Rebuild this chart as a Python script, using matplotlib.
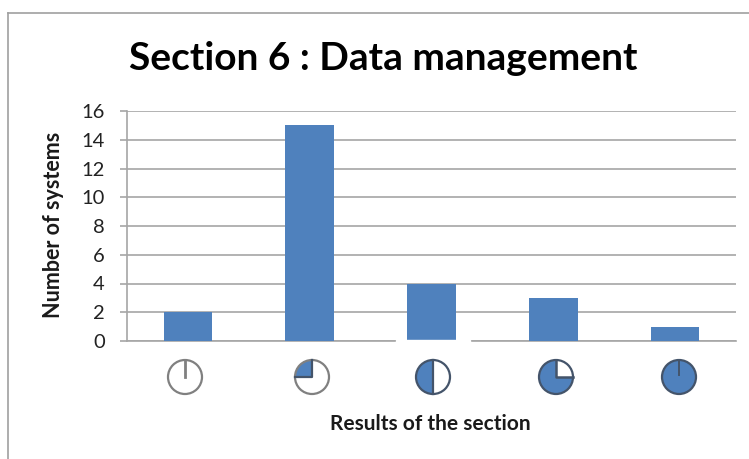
import matplotlib
matplotlib.use('Agg')
import matplotlib.pyplot as plt
from matplotlib.lines import Line2D
from matplotlib.patches import Circle, Rectangle, Wedge

W, H = 749, 459
BLUE = '#4f81bd'
GREY = '#a6a6a6'

# one bar per result level, the level is shown by a pie icon
values = [2, 15, 4, 3, 1]
filled = [0, 0.25, 0.5, 0.75, 1]
yticks = [0, 2, 4, 6, 8, 10, 12, 14, 16]

title = 'Section 6 : Data management'
xlabel = 'Results of the section'
ylabel = 'Number of systems'

plt.rcParams['font.family'] = ['Lato', 'DejaVu Sans']

fig = plt.figure(figsize=(W / 100, H / 100), dpi=100)

# chart frame, right and bottom are cut off in the picture
fig.add_artist(Line2D([8 / W, 8 / W], [0, 1 - 13 / H], color='#a0a0a0', lw=1.2))
fig.add_artist(Line2D([8 / W, 1], [1 - 13 / H, 1 - 13 / H], color='#a0a0a0', lw=1.2))

ax = fig.add_axes([127 / W, 1 - 341 / H, 609 / W, 230 / H])
x = list(range(len(values)))
ax.bar(x, values, width=0.4, color=BLUE, zorder=3)
ax.set_xlim(-0.5, 4.5)
ax.set_ylim(0, 16)
ax.set_yticks(yticks)
ax.set_xticks([])
ax.tick_params(axis='y', length=5, width=1.2, color=GREY, labelsize=14.5, pad=11, labelcolor='#222222')
ax.grid(axis='y', color=GREY, lw=1.2, zorder=1)
ax.set_axisbelow(True)
for s in ['top', 'right']:
    ax.spines[s].set_visible(False)
for s in ['left', 'bottom']:
    ax.spines[s].set_color(GREY)
    ax.spines[s].set_linewidth(1.2)

# white gap in the baseline under the middle bar
fig.add_artist(Rectangle((396 / W, 1 - 346 / H), 74 / W, 6 / H, color='white', zorder=5))

fig.text(383 / W, 1 - 59 / H, title, fontsize=28, fontweight='bold', ha='center', va='center', color='black')
fig.text(430 / W, 1 - 424.5 / H, xlabel, fontsize=15, fontweight='bold', ha='center', va='center', color='#1a1a1a')
fig.text(54 / W, 1 - 225 / H, ylabel, fontsize=15.5, fontweight='bold', rotation=90, ha='center', va='center', color='#1a1a1a')

# pie icons under the bars
icon_x = [185, 312, 433, 556, 679]
icon_y = 377
icon_r = 20
for cx, frac in zip(icon_x, filled):
    iax = fig.add_axes([(cx - icon_r) / W, 1 - (icon_y + icon_r) / H, 2 * icon_r / W, 2 * icon_r / H])
    iax.set_xlim(-icon_r, icon_r)
    iax.set_ylim(-icon_r, icon_r)
    iax.axis('off')
    edge = '#808080' if frac < 0.5 else '#44546a'
    if frac > 0:
        iax.add_patch(Wedge((0, 0), 17, 90, 90 + 360 * frac, facecolor=BLUE, edgecolor='none'))
    iax.add_patch(Circle((0, 0), 17, facecolor='none', edgecolor=edge, lw=1.6))
    if frac == 0:
        iax.plot([0, 0], [17, 0], color='#808080', lw=2)
    elif frac == 1:
        iax.plot([0, 0], [17, 2], color='#44546a', lw=1.4)
    elif frac == 0.5:
        iax.plot([0, 0], [17, -17], color='#44546a', lw=1.6)
    elif frac == 0.25:
        iax.plot([0, 0, -17], [17, 0, 0], color='#44546a', lw=1.6)
    else:
        iax.plot([0, 0, 17], [17, 0, 0], color='#44546a', lw=1.8)

fig.savefig('out.png', dpi=100)
